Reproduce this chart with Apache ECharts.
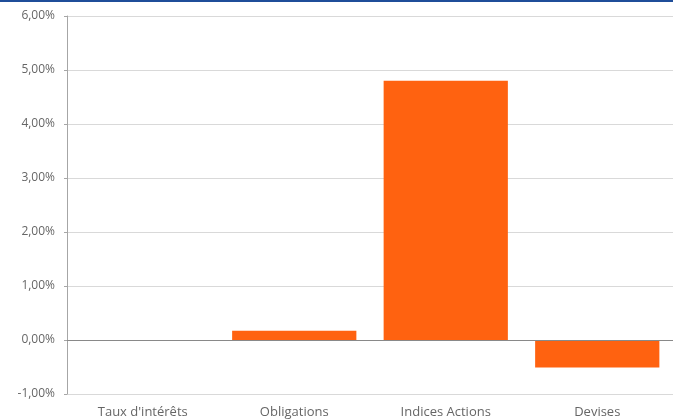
<!DOCTYPE html>
<html>
<head>
<meta charset="utf-8">
<script src="https://cdn.jsdelivr.net/npm/echarts@6/dist/echarts.min.js"></script>
<style>
html,body{margin:0;padding:0;background:#fff;}
#topline{position:absolute;left:0;top:0;width:673px;height:2px;background:#1f4e99;}
#chart{width:673px;height:419px;}
</style>
</head>
<body>
<div id="topline"></div>
<div id="chart"></div>
<script>
const categories = ["Taux d'intérêts", "Obligations", "Indices Actions", "Devises"];
const values = [0, 0.17, 4.80, -0.51];
const yMin = -1, yMax = 6, yStep = 1;

const chart = echarts.init(document.getElementById('chart'));
chart.setOption({
  animation: false,
  grid: { left: 67, right: -2, top: 16, bottom: 24, containLabel: false },
  xAxis: {
    type: 'category',
    data: categories,
    axisLine: { show: false },
    axisTick: { show: false },
    axisLabel: { color: '#666666', fontSize: 13, fontFamily: 'Open Sans', margin: 12 }
  },
  yAxis: {
    type: 'value',
    min: yMin, max: yMax, interval: yStep,
    axisLine: { show: true, lineStyle: { color: '#a6a6a6', width: 1 } },
    axisTick: { show: true, length: 3, lineStyle: { color: '#a6a6a6' } },
    splitLine: { show: true, lineStyle: { color: '#d9d9d9', width: 1 } },
    axisLabel: {
      color: '#666666', fontSize: 12, fontFamily: 'Open Sans', margin: 12,
      formatter: v => v.toFixed(2).replace('.', ',') + '%'
    }
  },
  series: [{
    type: 'bar',
    data: values,
    barCategoryGap: '18%',
    itemStyle: { color: '#ff6210' },
    markLine: {
      silent: true,
      symbol: 'none',
      label: { show: false },
      lineStyle: { color: '#898989', type: 'solid', width: 1 },
      data: [{ yAxis: 0 }]
    }
  }]
});
</script>
</body>
</html>
